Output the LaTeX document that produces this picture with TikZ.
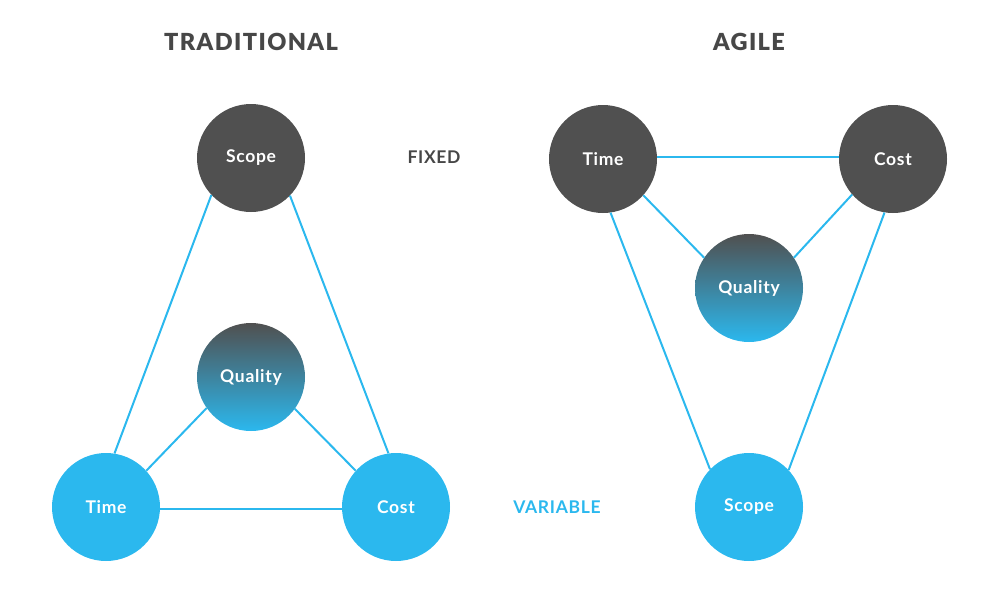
\documentclass[tikz,border=0pt]{standalone}
\usepackage{fontspec}
\setmainfont{Lato}[BoldFont={* Bold}]
\newfontfamily\titlefont{Lato}[LetterSpace=6,UprightFont={* Black}]
\newfontfamily\labelfont{Lato}[LetterSpace=4,UprightFont={* Bold}]
\definecolor{dk}{HTML}{505050}
\definecolor{bl}{HTML}{2BB8EE}
\definecolor{tt}{HTML}{474747}
\tikzset{
  ball/.style={circle, minimum size=108pt, inner sep=0pt, text=white, font=\labelfont\fontsize{17.5}{20}\selectfont},
  fixedball/.style={ball, fill=dk},
  varball/.style={ball, fill=bl},
  qball/.style={ball, top color=dk, bottom color=bl},
  link/.style={draw=bl, line width=2pt},
  heading/.style={text=tt, font=\titlefont\fontsize{23.5}{27}\selectfont},
  tag/.style={font=\labelfont\fontsize{17.5}{20}\selectfont}
}
\begin{document}
\begin{tikzpicture}[x=1pt,y=-1pt]
\useasboundingbox (0,0) rectangle (1000,589);
% titles
\node[heading] (t1) at (251,42) {TRADITIONAL};
\node[heading] (t2) at (749,42) {AGILE};
\node[tag, text=tt] (fx) at (434,157) {FIXED};
\node[tag, text=bl] (vr) at (557,507) {VARIABLE};
% traditional
\node[fixedball] (ls) at (251,158) {Scope};
\node[qball] (lq) at (251,377) {Quality};
\node[varball] (lt) at (106,507) {Time};
\node[varball] (lc) at (396,507) {Cost};
% agile
\node[fixedball] (rt) at (603,159) {Time};
\node[fixedball] (rc) at (893,159) {Cost};
\node[qball] (rq) at (749,288) {Quality};
\node[varball] (rs) at (749,507) {Scope};
% links traditional
\draw[link] (ls.223.5) -- (lt.81.6);
\draw[link] (ls.316.5) -- (lc.98.4);
\draw[link] (lq.215.6) -- (lt.42);
\draw[link] (lq.324.4) -- (lc.138);
\draw[link] (lt.-2) -- (lc.182);
% links agile
\draw[link] (rt.2) -- (rc.178);
\draw[link] (rt.318.7) -- (rq.146);
\draw[link] (rc.221.3) -- (rq.34);
\draw[link] (rt.278.4) -- (rs.136.5);
\draw[link] (rc.261.6) -- (rs.43.5);
\end{tikzpicture}
\end{document}
